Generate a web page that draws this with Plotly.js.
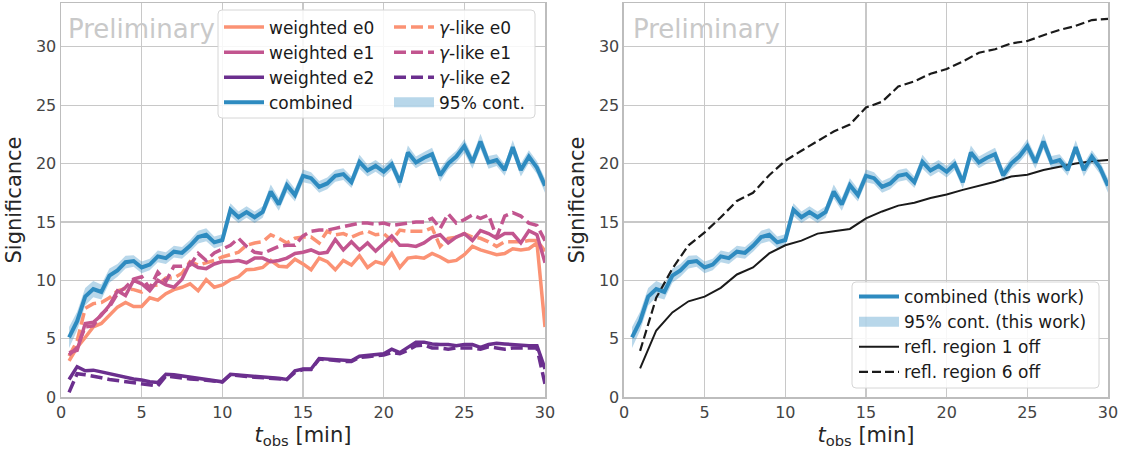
<!DOCTYPE html>
<html><head><meta charset="utf-8">
<script src="https://cdn.plot.ly/plotly-3.0.1.min.js"></script>
<style>html,body{margin:0;padding:0;background:#fff}</style>
</head><body><div id="chart" style="width:1124px;height:450px"></div>
<script>
// ---- data ----
const tHalf = [0.5,1,1.5,2,2.5,3,3.5,4,4.5,5,5.5,6,6.5,7,7.5,8,8.5,9,9.5,10,
  10.5,11,11.5,12,12.5,13,13.5,14,14.5,15,15.5,16,16.5,17,17.5,18,18.5,19,19.5,20,
  20.5,21,21.5,22,22.5,23,23.5,24,24.5,25,25.5,26,26.5,27,27.5,28,28.5,29,29.5,30];
const tFull = [1,2,3,4,5,6,7,8,9,10,11,12,13,14,15,16,17,18,19,20,21,22,23,24,25,26,27,28,29,30];

const combined = [5.1,6.5,8.6,9.25,9.0,10.4,10.85,11.55,11.65,11.1,11.35,12.05,11.9,12.45,12.35,12.95,13.7,13.9,13.25,13.45,
  16.05,15.4,15.85,15.4,15.85,17.6,16.5,18.15,17.3,18.95,18.75,18.0,18.3,18.95,19.1,18.4,20.15,19.4,19.8,19.3,
  19.95,18.4,20.95,20.1,20.5,20.8,19.0,20.0,20.6,21.5,20.1,21.9,20.1,20.3,19.45,21.4,19.45,20.6,19.65,18.1];
const combinedErr = [0.9,0.8,0.75,0.7,0.65,0.6,0.55,0.55,0.5,0.5,0.5,0.5,0.5,0.5,0.5,0.5,0.55,0.55,0.5,0.5,
  0.55,0.5,0.5,0.5,0.5,0.6,0.55,0.6,0.55,0.55,0.5,0.5,0.5,0.5,0.5,0.5,0.6,0.5,0.5,0.5,
  0.5,0.55,0.6,0.5,0.5,0.55,0.55,0.5,0.5,0.6,0.55,0.65,0.55,0.5,0.5,0.6,0.55,0.55,0.55,0.6];

const weightedE0 = [3.1,4.25,5.1,6.0,6.3,7.0,7.7,8.1,7.75,7.75,8.5,8.3,8.85,9.2,9.4,9.7,9.1,10.05,9.4,9.6,
  10.05,10.3,10.9,10.95,11.1,11.7,11.2,11.15,11.8,11.4,10.9,11.9,11.6,10.9,11.7,11.3,12.1,11.1,11.6,11.4,
  12.3,11.1,11.9,12.0,11.9,12.3,12.0,11.6,11.7,12.2,12.9,12.6,12.4,12.2,12.3,12.7,12.6,12.7,13.2,6.0];
const weightedE1 = [3.8,4.0,6.3,6.4,7.0,7.85,9.1,8.7,10.0,9.7,9.1,10.0,9.6,9.4,10.1,11.5,11.1,11.0,11.4,11.6,
  11.6,11.7,11.5,11.9,11.9,11.6,11.7,11.9,12.3,12.4,12.6,12.3,12.4,13.5,12.6,13.3,12.6,13.2,12.5,13.2,
  13.8,13.0,13.0,12.9,13.2,13.7,13.9,13.2,13.7,14.0,13.4,14.25,14.0,13.6,14.0,14.0,13.2,14.25,13.9,11.5];
const weightedE2 = [1.5,2.6,2.25,2.3,2.15,2.0,1.85,1.65,1.55,1.45,1.3,1.25,1.95,1.9,1.8,1.65,1.55,1.5,1.4,1.3,
  1.95,1.9,1.85,1.8,1.75,1.7,1.6,1.5,2.25,2.4,2.4,3.3,3.25,3.15,3.1,3.1,3.5,3.55,3.6,3.7,
  4.1,3.8,4.25,4.7,4.7,4.55,4.5,4.5,4.4,4.5,4.5,4.25,4.5,4.6,4.55,4.5,4.4,4.4,4.4,2.4];
const gammaE0 = [3.5,4.8,7.6,8.0,8.1,8.5,9.1,9.3,9.2,9.0,9.5,9.6,10.2,10.2,10.6,11.6,11.3,11.5,11.7,12.0,
  12.2,12.4,13.0,13.2,13.3,13.9,13.6,13.2,13.6,13.7,13.7,13.2,14.2,13.9,14.0,13.7,14.0,14.2,13.9,14.0,
  13.4,14.3,14.2,14.2,14.2,14.5,12.9,13.6,13.7,14.0,13.7,13.6,13.3,12.9,13.3,13.3,13.3,13.4,13.4,12.5];
const gammaE1 = [3.6,4.25,6.0,6.1,7.1,7.7,8.85,9.4,10.1,10.3,9.3,10.7,9.9,11.2,11.2,11.3,12.3,11.7,12.35,12.7,
  13.0,13.6,12.9,12.4,12.3,12.6,12.9,13.0,13.0,13.8,14.2,14.3,14.3,14.45,14.6,14.7,14.9,14.9,14.8,14.9,
  14.7,14.8,14.9,15.0,15.0,15.3,14.45,15.7,14.9,15.2,15.6,15.3,15.6,13.7,15.5,15.8,15.5,14.9,14.7,13.4];
const gammaE2 = [0.4,2.0,1.9,1.8,1.65,1.5,1.4,1.3,1.2,1.1,1.05,0.95,1.8,1.7,1.65,1.55,1.5,1.45,1.35,1.3,
  1.9,1.8,1.75,1.7,1.65,1.6,1.55,1.5,2.1,2.35,2.35,3.25,3.2,3.1,3.05,3.05,3.4,3.45,3.5,3.6,
  3.8,3.7,4.0,4.4,4.45,4.2,4.2,4.1,4.2,4.2,4.2,4.1,4.3,4.2,4.1,4.2,4.2,4.2,4.2,1.1];

const reflRegion1Off = [2.45,5.7,7.25,8.2,8.6,9.35,10.5,11.1,12.3,13.0,13.4,14.0,14.2,14.4,15.3,
  15.9,16.4,16.65,17.05,17.35,17.75,18.1,18.45,18.9,19.05,19.45,19.75,20.0,20.2,20.3];
const reflRegion6Off = [3.95,8.5,11.0,13.0,14.1,15.4,16.8,17.5,19.0,20.25,21.1,21.9,22.75,23.35,24.8,
  25.3,26.6,27.05,27.7,28.1,28.75,29.5,29.8,30.3,30.5,31.0,31.45,31.8,32.3,32.4];

const axisTicks = [0,5,10,15,20,25,30];
const axisTickLabels = ['0','5','10','15','20','25','30'];

// ---- styles ----
const cE0 = '#fb9274', cE1 = '#c2558f', cE2 = '#6b2f8e';
const cComb = '#2e8bc0', cBand = 'rgba(46,139,192,0.34)';
const lw = 3.5, dashC = '12px,5px';

const bandLow = combined.map((v,i)=>v-combinedErr[i]);
const bandHigh = combined.map((v,i)=>v+combinedErr[i]);

function band(xa, ya){
  return [
    {x:tHalf, y:bandLow, xaxis:xa, yaxis:ya, mode:'lines', line:{width:0,color:cBand}, showlegend:false, hoverinfo:'skip'},
    {x:tHalf, y:bandHigh, xaxis:xa, yaxis:ya, mode:'lines', line:{width:0,color:cBand}, fill:'tonexty', fillcolor:cBand, showlegend:false, hoverinfo:'skip'}
  ];
}
function ln(y, name, color, dash, legend, rank){
  return {x:tHalf, y:y, xaxis:'x', yaxis:'y', mode:'lines', name:name,
    line:{color:color, width:lw, dash:dash}, legend:legend, legendrank:rank};
}

const data = [
  ...band('x','y'),
  ln(weightedE0,'weighted e0',cE0,'solid','legend',1),
  ln(gammaE0,'<i>γ</i>-like e0',cE0,dashC,'legend2',1),
  ln(weightedE1,'weighted e1',cE1,'solid','legend',2),
  ln(gammaE1,'<i>γ</i>-like e1',cE1,dashC,'legend2',2),
  ln(weightedE2,'weighted e2',cE2,'solid','legend',3),
  ln(gammaE2,'<i>γ</i>-like e2',cE2,dashC,'legend2',3),
  {x:tHalf, y:combined, xaxis:'x', yaxis:'y', mode:'lines', name:'combined', line:{color:cComb,width:4}, legend:'legend', legendrank:4},
  {x:[null], y:[null], xaxis:'x', yaxis:'y', mode:'lines', name:'95% cont.', line:{color:cBand,width:12}, legend:'legend2', legendrank:4},
  // right panel
  ...band('x2','y2'),
  {x:tFull, y:reflRegion1Off, xaxis:'x2', yaxis:'y2', mode:'lines', name:'refl. region 1 off', line:{color:'#1a1a1a',width:2}, legend:'legend3', legendrank:3},
  {x:tFull, y:reflRegion6Off, xaxis:'x2', yaxis:'y2', mode:'lines', name:'refl. region 6 off', line:{color:'#1a1a1a',width:2.2,dash:'9px,4px'}, legend:'legend3', legendrank:4},
  {x:tHalf, y:combined, xaxis:'x2', yaxis:'y2', mode:'lines', name:'combined (this work)', line:{color:cComb,width:4}, legend:'legend3', legendrank:1},
  {x:[null], y:[null], xaxis:'x2', yaxis:'y2', mode:'lines', name:'95% cont. (this work)', line:{color:cBand,width:12}, legend:'legend3', legendrank:2}
];

const gridC = '#c8c8c8', lineC = '#bdbdbd';
function xax(domain, anchor){
  return {domain:domain, anchor:anchor, range:[0,30], tickvals:axisTicks, ticktext:axisTickLabels,
    showgrid:true, gridcolor:gridC, gridwidth:1.2, zeroline:false, showline:true, linecolor:lineC, linewidth:1.5, mirror:true,
    ticks:'', tickfont:{size:16,color:'#444'},
    title:{text:'<i>t</i><sub>obs</sub> [min]', font:{size:21,color:'#262626'}, standoff:6}};
}
function yax(anchor){
  return {anchor:anchor, domain:[0,1], range:[0,33.76], tickvals:axisTicks, ticktext:axisTickLabels,
    showgrid:true, gridcolor:gridC, gridwidth:1.2, zeroline:false, showline:true, linecolor:lineC, linewidth:1.5, mirror:true,
    ticks:'', tickfont:{size:16,color:'#444'},
    title:{text:'Significance', font:{size:21,color:'#262626'}, standoff:8}};
}

// paper coordinates helpers for legend boxes (plot area l=61..1108, t=3..397)
function px(x){ return (x-61)/1047; }
function py(y){ return 1-(y-3)/394; }
function roundRect(x0,y0,x1,y1){
  const X0=px(x0), X1=px(x1), Y0=py(y1), Y1=py(y0);
  const rx=4/1047, ry=4/394;
  return `M${X0+rx},${Y0} L${X1-rx},${Y0} Q${X1},${Y0} ${X1},${Y0+ry} L${X1},${Y1-ry} Q${X1},${Y1} ${X1-rx},${Y1} L${X0+rx},${Y1} Q${X0},${Y1} ${X0},${Y1-ry} L${X0},${Y0+ry} Q${X0},${Y0} ${X0+rx},${Y0} Z`;
}

const legBase = {xanchor:'left', yanchor:'top', bgcolor:'rgba(0,0,0,0)', borderwidth:0, traceorder:'normal',
  font:{size:17,color:'#1a1a1a'}, itemwidth:40, tracegroupgap:0, itemclick:false, itemdoubleclick:false};

const layout = {
  width:1124, height:450,
  margin:{l:61, r:16, t:3, b:53},
  paper_bgcolor:'#ffffff', plot_bgcolor:'#ffffff',
  font:{family:'DejaVu Sans', color:'#262626'},
  showlegend:true,
  xaxis:xax([0,0.4623],'y'),
  yaxis:yax('x'),
  xaxis2:xax([0.5377,1],'y2'),
  yaxis2:yax('x2'),
  legend:Object.assign({x:px(219), y:py(9.5)}, legBase),
  legend2:Object.assign({x:px(389), y:py(9.5)}, legBase),
  legend3:Object.assign({x:px(854), y:py(279)}, legBase),
  shapes:[
    {type:'path', xref:'paper', yref:'paper', path:roundRect(218,10,535,118), fillcolor:'rgba(255,255,255,0.85)', line:{color:'#d6d6d6',width:1}, layer:'above'},
    {type:'path', xref:'paper', yref:'paper', path:roundRect(852,282,1099,388), fillcolor:'rgba(255,255,255,0.85)', line:{color:'#d6d6d6',width:1}, layer:'above'}
  ],
  annotations:[
    {text:'Preliminary', xref:'paper', yref:'paper', x:px(66), y:py(28.5), xanchor:'left', yanchor:'middle', showarrow:false, font:{size:26,color:'#c9c9c9'}},
    {text:'Preliminary', xref:'paper', yref:'paper', x:px(631), y:py(28.5), xanchor:'left', yanchor:'middle', showarrow:false, font:{size:26,color:'#c9c9c9'}}
  ]
};

Plotly.newPlot('chart', data, layout, {displayModeBar:false, staticPlot:true});
</script>
</body></html>
